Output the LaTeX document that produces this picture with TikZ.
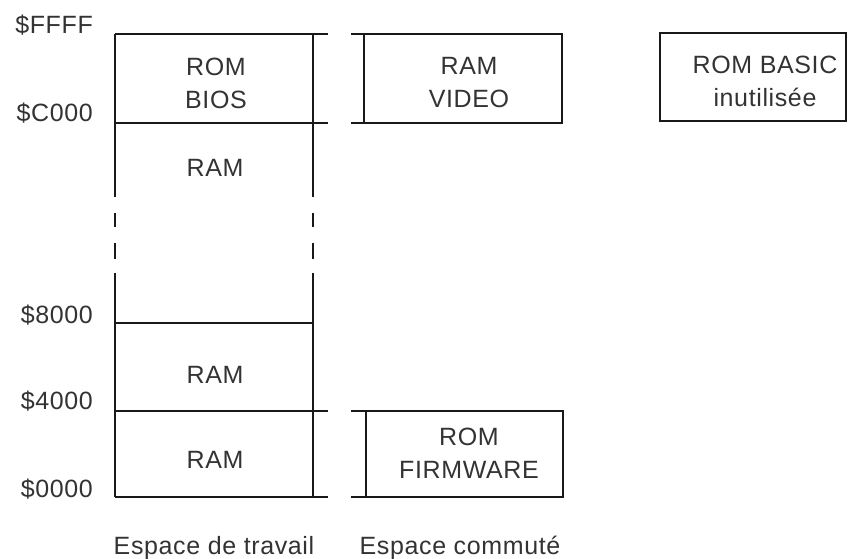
\documentclass[tikz,border=0pt]{standalone}
\usepackage{fontspec}
\setmainfont[LetterSpace=2.5]{Liberation Sans}
\begin{document}
\begin{tikzpicture}[x=1pt,y=-1pt,
  wall/.style={line width=1.6pt, color=black!90},
  txt/.style={inner sep=0pt, font=\fontsize{25}{33}\selectfont, text=black!80, align=center},
  oneline/.style={txt, text height=18pt, text depth=0pt},
  addr/.style={oneline, anchor=east}]
\useasboundingbox (0,0) rectangle (848,558);
% working space
\draw[wall] (115,34) -- (328,34);
\draw[wall] (115,123) -- (328,123);
\draw[wall] (115,323) -- (313,323);
\draw[wall] (115,411) -- (328,411);
\draw[wall] (115,497) -- (328,497);
\foreach \xx in {115,313}{
  \draw[wall] (\xx,34) -- (\xx,197);
  \draw[wall] (\xx,213) -- (\xx,227);
  \draw[wall] (\xx,243) -- (\xx,259);
  \draw[wall] (\xx,273) -- (\xx,497);
}
% switched space
\draw[wall] (351,34) -- (562,34) -- (562,123) -- (351,123);
\draw[wall] (364,34) -- (364,123);
\draw[wall] (351,411) -- (563,411) -- (563,497) -- (351,497);
\draw[wall] (366,411) -- (366,497);
% ROM BASIC
\draw[wall] (660,33) rectangle (846,121);
% addresses
\node[addr] (aFFFF) at (93,24.5) {\$FFFF};
\node[addr] (aC000) at (93,112.5) {\$C000};
\node[addr] (a8000) at (93,314) {\$8000};
\node[addr] (a4000) at (93,400) {\$4000};
\node[addr] (a0000) at (93,488) {\$0000};
% contents
\node[txt] (bios) at (216,83) {ROM\\BIOS};
\node[oneline] (ram3) at (215,167.5) {RAM};
\node[oneline] (ram2) at (215,374) {RAM};
\node[oneline] (ram1) at (215,459) {RAM};
\node[txt] (video) at (469,83) {RAM\\VIDEO};
\node[txt] (firm) at (469,453) {ROM\\FIRMWARE};
\node[txt] (basic) at (765,81) {ROM BASIC\\inutilisée};
\node[oneline] (trav) at (214,545) {Espace de travail};
\node[oneline] (comm) at (460,545) {Espace commuté};
\end{tikzpicture}
\end{document}
